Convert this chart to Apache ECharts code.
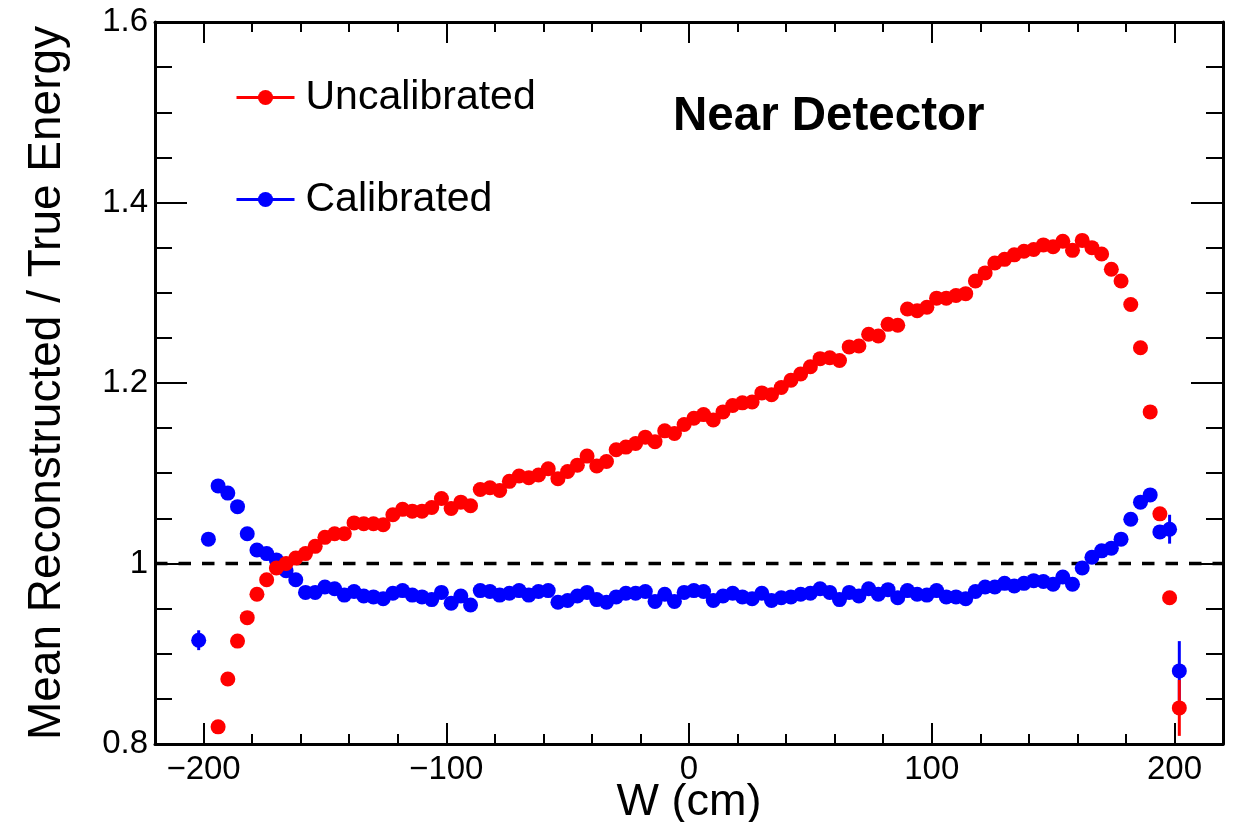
<!DOCTYPE html>
<html>
<head>
<meta charset="utf-8">
<script src="https://cdn.jsdelivr.net/npm/echarts@6/dist/echarts.min.js"></script>
<style>
  html, body { margin: 0; padding: 0; background: #ffffff; }
  #chart { width: 1241px; height: 822px; }
</style>
</head>
<body>
<div id="chart"></div>
<script>
// Bin centres along W (cm), 4 cm bins
const binW = [
  -202, -198, -194, -190, -186, -182, -178, -174, -170, -166,
  -162, -158, -154, -150, -146, -142, -138, -134, -130, -126,
  -122, -118, -114, -110, -106, -102,  -98,  -94,  -90,  -86,
   -82,  -78,  -74,  -70,  -66,  -62,  -58,  -54,  -50,  -46,
   -42,  -38,  -34,  -30,  -26,  -22,  -18,  -14,  -10,   -6,
    -2,    2,    6,   10,   14,   18,   22,   26,   30,   34,
    38,   42,   46,   50,   54,   58,   62,   66,   70,   74,
    78,   82,   86,   90,   94,   98,  102,  106,  110,  114,
   118,  122,  126,  130,  134,  138,  142,  146,  150,  154,
   158,  162,  166,  170,  174,  178,  182,  186,  190,  194,
   198,  202
];

// Mean reconstructed / true energy before calibration (null = below the frame)
const uncalibrated = [
  null,  null,  0.819, 0.872, 0.914, 0.940, 0.966, 0.982, 0.995, 1.000,
  1.006, 1.011, 1.019, 1.029, 1.033, 1.033, 1.045, 1.044, 1.044, 1.043,
  1.054, 1.060, 1.058, 1.058, 1.062, 1.072, 1.061, 1.068, 1.064, 1.082,
  1.084, 1.081, 1.091, 1.097, 1.095, 1.098, 1.105, 1.094, 1.102, 1.109,
  1.119, 1.108, 1.113, 1.126, 1.129, 1.133, 1.140, 1.135, 1.147, 1.144,
  1.154, 1.161, 1.165, 1.159, 1.168, 1.175, 1.178, 1.179, 1.189, 1.187,
  1.195, 1.203, 1.210, 1.218, 1.227, 1.228, 1.225, 1.240, 1.241, 1.254,
  1.252, 1.265, 1.264, 1.282, 1.280, 1.284, 1.294, 1.294, 1.297, 1.299,
  1.313, 1.322, 1.333, 1.337, 1.342, 1.346, 1.348, 1.353, 1.351, 1.357,
  1.347, 1.358, 1.350, 1.343, 1.326, 1.313, 1.287, 1.239, 1.168, 1.055,
  0.962, 0.840
];

// Mean reconstructed / true energy after calibration
const calibrated = [
  0.915, 1.027, 1.086, 1.078, 1.063, 1.033, 1.015, 1.011, 1.004, 0.992,
  0.982, 0.968, 0.968, 0.974, 0.972, 0.965, 0.969, 0.964, 0.963, 0.961,
  0.967, 0.970, 0.965, 0.963, 0.960, 0.968, 0.956, 0.964, 0.954, 0.970,
  0.969, 0.965, 0.967, 0.970, 0.965, 0.969, 0.970, 0.957, 0.959, 0.964,
  0.968, 0.960, 0.957, 0.963, 0.967, 0.967, 0.969, 0.958, 0.966, 0.958,
  0.968, 0.970, 0.969, 0.959, 0.964, 0.967, 0.963, 0.961, 0.967, 0.959,
  0.962, 0.963, 0.966, 0.967, 0.972, 0.968, 0.960, 0.968, 0.964, 0.972,
  0.966, 0.971, 0.962, 0.970, 0.966, 0.965, 0.970, 0.963, 0.963, 0.961,
  0.969, 0.974, 0.974, 0.978, 0.975, 0.978, 0.981, 0.980, 0.977, 0.985,
  0.977, 0.995, 1.007, 1.014, 1.017, 1.027, 1.049, 1.068, 1.076, 1.035,
  1.038, 0.881
];

// Statistical errors large enough to show outside the markers
const uncalErrBins = [202];
const uncalErrSize = [0.031];
const calErrBins = [-202, 198, 202];
const calErrSize = [0.011, 0.016, 0.033];

// Axis ticks
const xMajorTicks = [-200, -100, 0, 100, 200];
const xMinorTicks = [-220, -200, -180, -160, -140, -120, -100, -80, -60, -40, -20,
                     0, 20, 40, 60, 80, 100, 120, 140, 160, 180, 200, 220];
const unityLevel = 1;

const FONT = 'Liberation Sans';
const RED = '#ff0000';
const BLUE = '#0000ff';

function points(values) {
  const out = [];
  binW.forEach((w, i) => { if (values[i] !== null) out.push([w, values[i]]); });
  return out;
}
function errorData(values, bins, sizes) {
  return bins.map((w, j) => [w, values[binW.indexOf(w)], sizes[j]]);
}
function errorBars(color) {
  return function (params, api) {
    const x = api.value(0), y = api.value(1), e = api.value(2);
    const p1 = api.coord([x, y - e]);
    const p2 = api.coord([x, y + e]);
    return {
      type: 'line',
      shape: { x1: p1[0], y1: p1[1], x2: p2[0], y2: p2[1] },
      style: { stroke: color, lineWidth: 3 }
    };
  };
}

const axisLineStyle = { color: '#000', width: 3 };
const tickStyle = { color: '#000', width: 2 };

function xAxisDef(position, major) {
  return {
    type: 'value', min: -220, max: 220, position: position,
    axisLine: { show: major, onZero: false, lineStyle: axisLineStyle },
    axisTick: { show: true, inside: true, length: major ? 21 : 10, lineStyle: tickStyle,
                customValues: major ? xMajorTicks : xMinorTicks },
    axisLabel: (major && position === 'bottom') ? {
      show: true, customValues: xMajorTicks, margin: 9,
      fontFamily: FONT, fontSize: 33, color: '#000',
      formatter: v => String(v).replace('-', '\u2212')
    } : { show: false },
    splitLine: { show: false },
    name: (major && position === 'bottom') ? 'W (cm)' : '',
    nameLocation: 'middle', nameGap: 36, nameMoveOverlap: false,
    nameTextStyle: { fontFamily: FONT, fontSize: 45, color: '#000' }
  };
}
function yAxisDef(position) {
  const left = position === 'left';
  return {
    type: 'value', min: 0.8, max: 1.6, interval: 0.2, position: position,
    axisLine: { show: true, onZero: false, lineStyle: axisLineStyle },
    axisTick: { show: true, inside: true, length: 32, lineStyle: tickStyle },
    minorTick: { show: true, splitNumber: 4, length: 17, lineStyle: tickStyle },
    axisLabel: left ? { show: true, margin: 7, fontFamily: FONT, fontSize: 33, color: '#000' } : { show: false },
    splitLine: { show: false },
    minorSplitLine: { show: false },
    name: left ? 'Mean Reconstructed / True Energy' : '',
    nameLocation: 'middle', nameGap: 85, nameMoveOverlap: false,
    nameTextStyle: { fontFamily: FONT, fontSize: 46, color: '#000' }
  };
}

const chart = echarts.init(document.getElementById('chart'), null, { renderer: 'canvas' });
chart.setOption({
  animation: false,
  backgroundColor: '#ffffff',
  grid: { left: 155, right: 18, top: 22, bottom: 78, containLabel: false, outerBoundsMode: 'none' },
  title: {
    text: 'Near Detector', left: 673, top: 93, padding: 0,
    textStyle: { fontFamily: FONT, fontSize: 47.5, fontWeight: 'bold', color: '#000' }
  },
  legend: {
    orient: 'vertical', left: 235, top: 77, padding: 0,
    itemWidth: 58, itemHeight: 19, itemGap: 61,
    selectedMode: false,
    data: ['Uncalibrated', 'Calibrated'],
    lineStyle: { opacity: 1, width: 3 },
    textStyle: { fontFamily: FONT, fontSize: 41, lineHeight: 41, color: '#000', padding: [0, 0, 0, 6] }
  },
  xAxis: [xAxisDef('bottom', true), xAxisDef('bottom', false), xAxisDef('top', true), xAxisDef('top', false)],
  yAxis: [yAxisDef('left'), yAxisDef('right')],
  series: [
    {
      name: 'unity', type: 'line', silent: true, z: 1,
      data: [[-220, unityLevel], [220, unityLevel]],
      showSymbol: false, symbol: 'none',
      lineStyle: { color: '#000', width: 3.5, type: [12.5, 11] }
    },
    {
      type: 'custom', silent: true, z: 2, clip: true,
      renderItem: errorBars(BLUE),
      data: errorData(calibrated, calErrBins, calErrSize)
    },
    {
      name: 'Calibrated', type: 'line', silent: true, z: 3,
      data: points(calibrated),
      symbol: 'circle', symbolSize: 15, showSymbol: true,
      itemStyle: { color: BLUE },
      lineStyle: { color: BLUE, opacity: 0, width: 3 }
    },
    {
      type: 'custom', silent: true, z: 4, clip: true,
      renderItem: errorBars(RED),
      data: errorData(uncalibrated, uncalErrBins, uncalErrSize)
    },
    {
      name: 'Uncalibrated', type: 'line', silent: true, z: 5,
      data: points(uncalibrated),
      symbol: 'circle', symbolSize: 15, showSymbol: true,
      itemStyle: { color: RED },
      lineStyle: { color: RED, opacity: 0, width: 3 }
    }
  ]
});
</script>
</body>
</html>
